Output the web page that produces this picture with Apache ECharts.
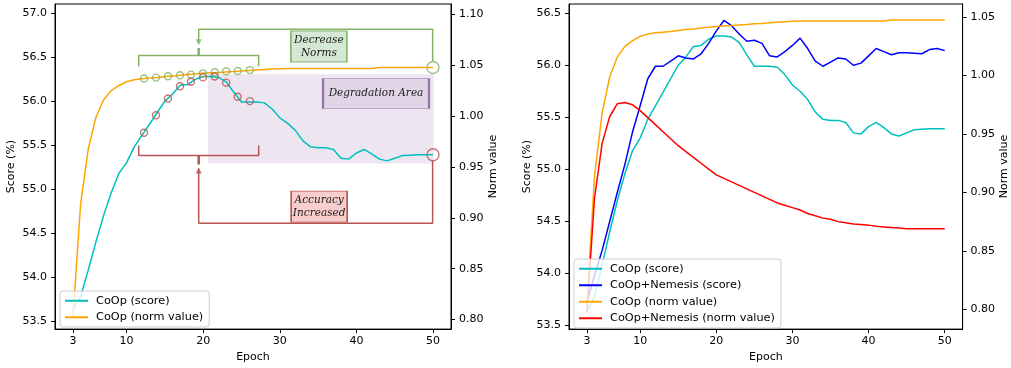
<!DOCTYPE html>
<html lang="en">
<head>
    <meta charset="utf-8"/>
    <script src="https://cdn.jsdelivr.net/npm/echarts@6/dist/echarts.min.js"></script>
    <style>
        html, body { margin: 0; padding: 0; background: #fff; }
        #main { width: 1011px; height: 368px; }
    </style>
</head>
<body>
<div id="main"></div>
<script>
    // epochs 3..50
    var epochs = [];
    for (var e = 3; e <= 50; e++) epochs.push(e);

    var coopScore = [53.63, 53.78, 54.08, 54.40, 54.70, 54.96, 55.18, 55.30, 55.48, 55.61,
        55.74, 55.87, 56.00, 56.08, 56.18, 56.19, 56.25, 56.28, 56.28, 56.27,
        56.22, 56.10, 55.99, 55.99, 55.99, 55.98, 55.91, 55.81, 55.75, 55.67,
        55.55, 55.48, 55.47, 55.47, 55.45, 55.35, 55.34, 55.41, 55.45, 55.40,
        55.34, 55.32, 55.35, 55.38, 55.385, 55.39, 55.39, 55.39];
    var nemesisScore = [53.72, 53.98, 54.22, 54.50, 54.78, 55.05, 55.36, 55.61, 55.87, 55.99,
        55.99, 56.04, 56.09, 56.07, 56.06, 56.11, 56.21, 56.33, 56.43, 56.38,
        56.30, 56.23, 56.24, 56.21, 56.09, 56.08, 56.13, 56.19, 56.26, 56.16,
        56.04, 55.99, 56.03, 56.07, 56.06, 56.00, 56.02, 56.09, 56.16, 56.13,
        56.10, 56.12, 56.12, 56.115, 56.11, 56.15, 56.16, 56.14];
    var coopNorm = [0.803, 0.914, 0.968, 0.999, 1.016, 1.025, 1.030, 1.0336, 1.0356, 1.0366,
        1.0372, 1.0378, 1.0387, 1.0394, 1.0400, 1.0407, 1.0414, 1.0421, 1.0425, 1.0428,
        1.0433, 1.0437, 1.0443, 1.0447, 1.0452, 1.0457, 1.0461, 1.0465, 1.0467, 1.0467,
        1.0467, 1.0467, 1.0467, 1.0467, 1.0467, 1.0467, 1.0467, 1.0467, 1.0467, 1.0467,
        1.0477, 1.0477, 1.0477, 1.0477, 1.0477, 1.0477, 1.0477, 1.0477];
    var nemesisNorm = [0.797, 0.895, 0.942, 0.965, 0.976, 0.977, 0.975, 0.970, 0.964, 0.958,
        0.952, 0.946, 0.940, 0.935, 0.930, 0.925, 0.920, 0.915, 0.912, 0.909,
        0.906, 0.903, 0.900, 0.897, 0.894, 0.891, 0.889, 0.887, 0.885, 0.882,
        0.880, 0.878, 0.877, 0.875, 0.874, 0.873, 0.8725, 0.872, 0.871, 0.8705,
        0.870, 0.8695, 0.869, 0.869, 0.869, 0.869, 0.869, 0.869];

    // circle markers on the left chart
    var markEpochs = [12.27, 13.84, 15.4, 16.97, 18.4, 19.97, 21.5, 23.0, 24.5, 26.1];
    var markScore = [55.64, 55.84, 56.03, 56.17, 56.22, 56.27, 56.28, 56.21, 56.05, 56.00];
    var markNorm = [1.0368, 1.0377, 1.039, 1.040, 1.0406, 1.0419, 1.0429, 1.0439, 1.0442, 1.0451];

    // ticks
    var xTicks = [3, 10, 20, 30, 40, 50];
    var scoreTicksL = [53.5, 54.0, 54.5, 55.0, 55.5, 56.0, 56.5, 57.0];
    var normTicksL = [0.80, 0.85, 0.90, 0.95, 1.00, 1.05, 1.10];
    var scoreTicksR = [53.5, 54.0, 54.5, 55.0, 55.5, 56.0, 56.5];
    var normTicksR = [0.80, 0.85, 0.90, 0.95, 1.00, 1.05];

    // annotations (epoch, score on the left chart)
    var greenBracket = [[11.58, 56.397], [11.58, 56.518], [27.24, 56.518], [27.24, 56.397]];
    var greenStem = [[19.41, 56.518], [19.41, 56.605]];
    var greenLead = [[19.41, 56.66], [19.41, 56.819], [49.95, 56.819], [49.95, 56.45]];
    var redBracket = [[11.58, 55.494], [11.58, 55.381], [27.24, 55.381], [27.24, 55.494]];
    var redStem = [[19.41, 55.381], [19.41, 55.280]];
    var redLead = [[19.41, 55.23], [19.41, 54.611], [49.95, 54.611], [49.95, 55.325]];
    var degradeArea = [[20.62, 56.307], [50.09, 55.291]];

    function pairs(xs, ys) {
        return xs.map(function (x, i) { return [x, ys[i]]; });
    }

    var FONT = 'DejaVu Sans';
    var cyan = '#00bfbf', orange = '#ffa500', blue = '#0000ff', red = '#ff0000';
    var green = '#82b366', dred = '#b85450';

    function xAxis(grid) {
        return {
            type: 'value', gridIndex: grid, min: 0.65, max: 52.35,
            name: 'Epoch', nameLocation: 'middle', nameGap: 22,
            nameTextStyle: {color: '#000', fontSize: 11, fontFamily: FONT},
            axisLine: {show: true, onZero: false, lineStyle: {color: '#000', width: 1}},
            axisTick: {show: true, length: 4, customValues: xTicks, lineStyle: {color: '#000'}},
            axisLabel: {customValues: xTicks, color: '#000', fontSize: 11, fontFamily: FONT, margin: 7},
            splitLine: {show: false}
        };
    }

    function yAxis(grid, pos, min, max, ticks, digits, name, gap) {
        return {
            type: 'value', gridIndex: grid, position: pos, min: min, max: max,
            name: name, nameLocation: 'middle', nameGap: gap, nameRotate: 90,
            nameTextStyle: {color: '#000', fontSize: 11, fontFamily: FONT},
            axisLine: {show: true, onZero: false, lineStyle: {color: '#000', width: 1}},
            axisTick: {show: true, length: 4, customValues: ticks, lineStyle: {color: '#000'}},
            axisLabel: {
                customValues: ticks, color: '#000', fontSize: 11, fontFamily: FONT, margin: 8,
                formatter: function (v) { return v.toFixed(digits); }
            },
            splitLine: {show: false}
        };
    }

    function line(name, xi, yi, data, color, z) {
        return {
            name: name, type: 'line', xAxisIndex: xi, yAxisIndex: yi,
            data: data, symbol: 'none', z: z || 2,
            lineStyle: {color: color, width: 1.5}, itemStyle: {color: color}
        };
    }

    function deco(data, color, width) {
        return {
            type: 'line', xAxisIndex: 0, yAxisIndex: 0, data: data, symbol: 'none', z: 3,
            silent: true, lineStyle: {color: color, width: width || 1.5}
        };
    }

    function rings(yi, data, color, size) {
        return {
            type: 'scatter', xAxisIndex: 0, yAxisIndex: yi, z: 3, silent: true,
            symbol: 'circle', symbolSize: size, data: data,
            itemStyle: {color: 'rgba(255,255,255,0)', borderColor: color, borderWidth: 1.4}
        };
    }

    function box(x, y, text, w, h, fill, border) {
        return {
            type: 'scatter', xAxisIndex: 0, yAxisIndex: 0, z: 7, silent: true,
            symbol: 'rect', symbolSize: [w, h],
            data: [[x, y]],
            itemStyle: {color: fill, borderColor: border, borderWidth: 1.2, opacity: 1},
            label: {
                show: true, position: 'inside', formatter: text,
                fontFamily: 'DejaVu Serif', fontStyle: 'italic', fontSize: 10.5,
                lineHeight: 13, color: '#1a1a1a'
            }
        };
    }

    function legend(left, top, names) {
        return {
            left: left, top: top, orient: 'vertical', z: 10,
            data: names, icon: 'rect',
            itemWidth: 23, itemHeight: 2, itemGap: 3,
            padding: [3, 6, 3, 5],
            backgroundColor: 'rgba(255,255,255,0.8)', borderColor: '#cccccc', borderWidth: 1, borderRadius: 3,
            textStyle: {color: '#000', fontSize: 11.3, fontFamily: FONT, lineHeight: 13.5, padding: [0, 0, 0, 3]}
        };
    }

    var chart = echarts.init(document.getElementById('main'), null, {renderer: 'canvas'});

    var option = {
        animation: false,
        backgroundColor: '#fff',
        grid: [
            {left: 55, top: 4, width: 396, height: 328, show: true, borderColor: '#000', borderWidth: 1},
            {left: 569, top: 4, width: 395, height: 329, show: true, borderColor: '#000', borderWidth: 1}
        ],
        xAxis: [xAxis(0), xAxis(1)],
        yAxis: [
            yAxis(0, 'left', 53.406, 57.105, scoreTicksL, 1, 'Score (%)', 38),
            yAxis(0, 'right', 0.7907, 1.110, normTicksL, 2, 'Norm value', 36),
            yAxis(1, 'left', 53.465, 56.588, scoreTicksR, 1, 'Score (%)', 34),
            yAxis(1, 'right', 0.783, 1.0613, normTicksR, 2, 'Norm value', 36)
        ],
        legend: [
            legend(60, 291, ['CoOp (score)', 'CoOp (norm value)']),
            legend(574, 259, ['CoOp (score)', 'CoOp+Nemesis (score)', 'CoOp (norm value)', 'CoOp+Nemesis (norm value)'])
        ],
        series: [
            // left chart
            line('CoOp (score)', 0, 0, pairs(epochs, coopScore), cyan),
            line('CoOp (norm value)', 0, 1, pairs(epochs, coopNorm), orange),
            rings(1, pairs(markEpochs, markNorm), green, 7),
            rings(0, pairs(markEpochs, markScore), dred, 7),
            deco(greenBracket, green), deco(greenStem, green, 2.5), deco(greenLead, green),
            deco(redBracket, dred), deco(redStem, dred, 2.5), deco(redLead, dred),
            {
                type: 'scatter', xAxisIndex: 0, yAxisIndex: 0, z: 3, silent: true,
                symbol: 'triangle', symbolSize: [6, 6],
                data: [
                    {value: [19.41, 56.67], symbolRotate: 180, itemStyle: {color: green}},
                    {value: [19.41, 55.21], symbolRotate: 0, itemStyle: {color: dred}}
                ]
            },
            rings(1, [[50, coopNorm[coopNorm.length - 1]]], green, 12),
            rings(0, [[50, coopScore[coopScore.length - 1]]], dred, 12),
            {
                type: 'line', xAxisIndex: 0, yAxisIndex: 0, data: [], z: 5, silent: true,
                markArea: {
                    silent: true,
                    itemStyle: {color: 'rgba(225,213,231,0.6)'},
                    data: [[{coord: degradeArea[0]}, {coord: degradeArea[1]}]]
                }
            },
            box(35.1, 56.622, 'Decrease\nNorms', 56, 31, '#d5e8d4', green),
            box(35.14, 54.80, 'Accuracy\nIncreased', 56, 31, '#f8cecc', dred),
            box(42.56, 56.087, 'Degradation Area', 106, 30, '#e1d5e7', '#9673a6'),

            // right chart
            line('CoOp (score)', 1, 2, pairs(epochs, coopScore), cyan),
            line('CoOp+Nemesis (score)', 1, 2, pairs(epochs, nemesisScore), blue),
            line('CoOp (norm value)', 1, 3, pairs(epochs, coopNorm), orange),
            line('CoOp+Nemesis (norm value)', 1, 3, pairs(epochs, nemesisNorm), red)
        ]
    };
    chart.setOption(option);
</script>
</body>
</html>
